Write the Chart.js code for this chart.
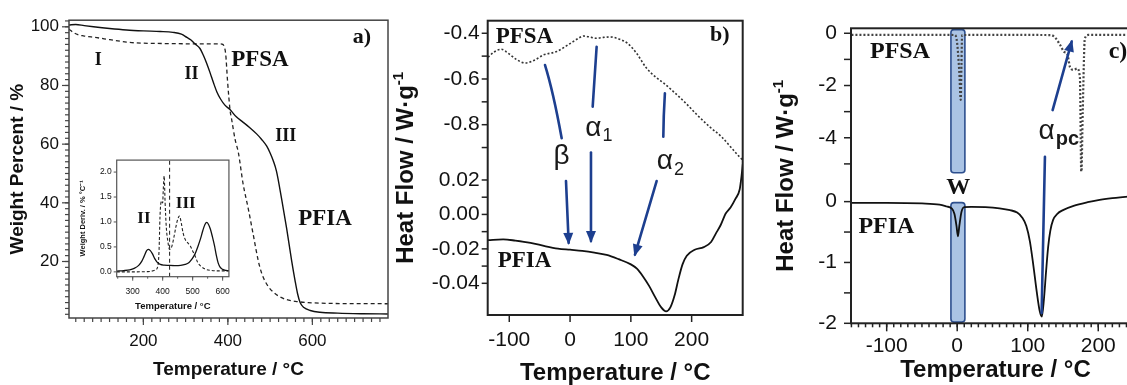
<!DOCTYPE html>
<html lang="en">
<head>
<meta charset="UTF-8">
<title>TGA and DSC of PFSA / PFIA</title>
<script src="https://cdn.jsdelivr.net/npm/chart.js@4"></script>
<style>
  html, body { margin: 0; padding: 0; background: #fff; overflow: hidden; width: 1127px; height: 385px; }
  .panel { position: absolute; top: 0; }
</style>
</head>
<body>
<div class="panel" style="left:0"><canvas id="chartA" width="392" height="385"></canvas></div>
<div class="panel" style="left:70px;top:150px"><canvas id="chartInset" width="170" height="170"></canvas></div>
<div class="panel" style="left:380px"><canvas id="chartB" width="380" height="385"></canvas></div>
<div class="panel" style="left:760px"><canvas id="chartC" width="390" height="385"></canvas></div>

<script>
// ---- panel a) TGA ----
const aTempPFIA = [24, 40, 60, 82, 120, 160, 200, 240, 270, 290, 303, 312, 322, 334, 342, 350, 358, 366, 374, 383, 393, 405, 420, 435, 452, 468, 480, 492, 500, 507, 515, 527, 539, 551, 559, 565, 571, 580, 595, 618, 660, 720, 779];
const aWeightPFIA = [100.6, 100.8, 100.4, 100.0, 99.4, 98.9, 98.6, 98.4, 98.1, 97.5, 96.4, 95.6, 94.2, 92.6, 90.3, 87.5, 84.3, 80.9, 77.8, 75.3, 73.3, 71.8, 69.3, 67.6, 65.6, 63.5, 61.6, 59.3, 57.0, 54.5, 50.8, 41.5, 31.4, 20.2, 13.5, 9.0, 6.0, 4.3, 3.3, 2.7, 2.4, 2.2, 2.1];
const aTempPFSA = [24, 34, 45, 58, 90, 121, 160, 184, 250, 318, 381, 388, 392, 395, 399, 402, 405, 409, 417, 425, 436, 448, 460, 472, 480, 488, 498, 508, 520, 539, 560, 590, 650, 779];
const aWeightPFSA = [99.2, 98.1, 97.3, 96.9, 96.3, 95.6, 94.8, 94.5, 94.3, 94.2, 94.2, 94.0, 93.0, 90.5, 82.0, 76.5, 71.8, 68.4, 61.7, 57.0, 46.5, 38.2, 29.2, 20.2, 16.0, 13.3, 11.0, 9.5, 8.2, 7.0, 6.4, 6.0, 5.7, 5.6];
const aXTicks = [200, 400, 600];
const aYTicks = [20, 40, 60, 80, 100];

// inset: derivative weight
const insTempPFIA = [247, 270, 290, 305, 320, 330, 338, 346, 352, 358, 366, 374, 382, 392, 405, 420, 440, 460, 475, 488, 498, 508, 517, 526, 534, 541, 547, 552, 559, 566, 573, 579, 585, 592, 600, 610, 621];
const insDerivPFIA = [0.016, 0.025, 0.04, 0.07, 0.13, 0.21, 0.31, 0.42, 0.45, 0.43, 0.36, 0.26, 0.19, 0.15, 0.135, 0.13, 0.125, 0.13, 0.15, 0.19, 0.26, 0.36, 0.5, 0.66, 0.83, 0.95, 0.99, 0.96, 0.86, 0.7, 0.52, 0.33, 0.18, 0.09, 0.05, 0.03, 0.025];
const insTempPFSA = [247, 300, 350, 375, 384, 388, 391, 394, 397, 400, 402, 405, 408, 412, 417, 423, 430, 437, 444, 450, 456, 462, 468, 476, 484, 492, 500, 508, 516, 526, 540, 560, 590, 621];
const insDerivPFSA = [0.0, 0.0, 0.005, 0.035, 0.12, 0.45, 1.1, 1.38, 1.42, 1.38, 1.65, 1.92, 1.4, 0.9, 0.62, 0.45, 0.5, 0.68, 0.9, 1.05, 1.12, 0.98, 0.78, 0.64, 0.58, 0.52, 0.42, 0.32, 0.2, 0.12, 0.06, 0.03, 0.02, 0.02];
const insMarkerTemp = 423;
const insXTicks = [300, 400, 500, 600];
const insYTicks = [0, 0.5, 1, 1.5, 2];

// ---- panel b) DSC heat flow ----
const bTempPFSA = [-135, -125, -113, -102, -88, -74, -58, -44, -22, 0, 15, 22, 35, 44, 55, 66, 80, 95, 110, 125, 140, 155, 170, 190, 210, 230, 250, 265, 275, 284];
const bFlowPFSA = [-0.505, -0.482, -0.47, -0.487, -0.515, -0.53, -0.517, -0.495, -0.48, -0.445, -0.42, -0.412, -0.418, -0.422, -0.418, -0.416, -0.425, -0.445, -0.49, -0.55, -0.59, -0.62, -0.655, -0.705, -0.76, -0.81, -0.855, -0.9, -0.93, -0.955];
const bTempPFIA = [-135, -110, -90, -65, -40, -20, 0, 20, 40, 60, 80, 100, 110, 120, 130, 140, 150, 158, 165, 172, 178, 185, 192, 205, 220, 232, 240, 248, 256, 264, 272, 279, 282, 285];
const bFlowPFIA = [-0.0149, -0.0145, -0.0152, -0.0165, -0.0185, -0.0198, -0.0205, -0.0212, -0.0222, -0.0235, -0.026, -0.029, -0.0315, -0.036, -0.0415, -0.048, -0.054, -0.0563, -0.054, -0.047, -0.038, -0.029, -0.024, -0.0205, -0.019, -0.016, -0.011, -0.006, 0.0005, 0.004, 0.009, 0.0145, 0.022, 0.032];
const bXTicks = [-100, 0, 100, 200];
const bTopTicks = [-0.4, -0.6, -0.8];
const bTopMinor = [-0.5, -0.7, -0.9];
const bBotTicks = [0.02, 0, -0.02, -0.04];
const bBotMinor = [0.01, -0.01, -0.03];

// ---- panel c) DSC heat flow ----
const cTempPFSA = [-150, -10, -3, 0, 3, 5, 6, 7, 20, 100, 133, 140, 146, 152, 156, 160, 165, 170, 174, 176, 178, 181, 186, 260];
const cFlowPFSA = [-0.065, -0.065, -0.07, -0.4, -1.5, -2.55, -1.2, -0.07, -0.065, -0.065, -0.07, -0.2, -0.45, -0.72, -0.78, -1.3, -1.4, -1.35, -1.7, -5.45, -3.0, -0.2, -0.065, -0.065];
const cTempPFIA = [-150, -100, -50, -25, -15, -8, -4, -1, 1, 3, 6, 10, 20, 40, 60, 75, 85, 92, 98, 103, 108, 113, 117, 120, 123, 126, 129, 132, 136, 142, 150, 165, 185, 200, 220, 260];
const cFlowPFIA = [-0.02, -0.02, -0.03, -0.05, -0.08, -0.11, -0.2, -0.4, -0.57, -0.4, -0.17, -0.09, -0.085, -0.09, -0.11, -0.14, -0.18, -0.26, -0.4, -0.65, -1.05, -1.5, -1.8, -1.89, -1.6, -1.15, -0.74, -0.48, -0.3, -0.2, -0.14, -0.07, -0.01, 0.025, 0.056, 0.1];
const cXTicks = [-100, 0, 100, 200];
const cTopTicks = [0, -2, -4];
const cTopMinor = [-1, -3, -5];
const cBotTicks = [0, -1, -2];
const cBotMinor = [-0.5, -1.5];

const SANS = '"Liberation Sans", Arial, sans-serif';
const SERIF = '"Liberation Serif", "Times New Roman", serif';
const BLUE = '#1d3f8f';
Chart.defaults.font.family = SANS;
Chart.defaults.color = '#111';

const pts = (xs, ys) => xs.map((x, i) => ({x: x, y: ys[i]}));
function steps(from, to, step) {
    const out = [];
    for (let v = from; v <= to + 1e-9; v += step) out.push(+v.toFixed(6));
    return out;
}

function line(data, yAxisID, extra) {
    return Object.assign({
        data: data, yAxisID: yAxisID, borderColor: '#111', borderWidth: 1.5,
        pointRadius: 0, fill: false, cubicInterpolationMode: 'monotone'
    }, extra);
}

function axis(min, max, majors, o) {
    return {
        type: 'linear', min: min, max: max,
        position: o.position, stack: o.stack, stackWeight: o.weight,
        grid: { display: false, drawTicks: false },
        border: { display: false },
        afterBuildTicks: s => { s.ticks = majors.map(v => ({value: v})); },
        afterFit: s => {
            if (o.h !== undefined) s.height = o.h;
            if (o.w !== undefined) s.width = o.w;
        },
        ticks: {
            autoSkip: false, maxRotation: 0, minRotation: 0, color: '#111',
            padding: o.pad, font: { size: o.size },
            callback: v => o.fmt ? o.fmt(v) : String(v)
        },
        title: o.title || { display: false }
    };
}

// frame, tick marks, annotations drawn through the chart's scales
function deco(cfg) {
    return {
        id: 'deco',
        beforeDatasetsDraw(chart) {
            const ctx = chart.ctx;
            (cfg.rects || []).forEach(r => {
                const xs = chart.scales.x, ys = chart.scales[r.axis];
                const x0 = xs.getPixelForValue(r.x0), x1 = xs.getPixelForValue(r.x1);
                const y0 = ys.getPixelForValue(r.y0), y1 = ys.getPixelForValue(r.y1);
                ctx.save();
                ctx.beginPath();
                ctx.roundRect(x0, y0, x1 - x0, y1 - y0, 3);
                ctx.fillStyle = 'rgba(125,163,214,0.65)';
                ctx.fill();
                ctx.lineWidth = 1.6;
                ctx.strokeStyle = '#2d4f8e';
                ctx.stroke();
                ctx.restore();
            });
        },
        afterDraw(chart) {
            const ctx = chart.ctx, ca = chart.chartArea;
            ctx.save();
            ctx.strokeStyle = cfg.frameColor || '#333';
            ctx.lineWidth = cfg.frameWidth || 1.5;
            ctx.strokeRect(ca.left, ca.top, ca.right - ca.left, ca.bottom - ca.top);

            (cfg.ticks || []).forEach(t => {
                const s = chart.scales[t.axis];
                ctx.lineWidth = t.width || 1.2;
                t.values.forEach(v => {
                    const p = s.getPixelForValue(v);
                    ctx.beginPath();
                    if (s.isHorizontal()) {
                        ctx.moveTo(p, ca.bottom); ctx.lineTo(p, ca.bottom + t.len);
                    } else {
                        ctx.moveTo(ca.left, p); ctx.lineTo(ca.left - t.len, p);
                    }
                    ctx.stroke();
                });
            });

            (cfg.arrows || []).forEach(a => {
                const xs = chart.scales.x, ys = chart.scales[a.axis];
                const p = a.pts.map(q => [xs.getPixelForValue(q[0]), ys.getPixelForValue(q[1])]);
                ctx.strokeStyle = BLUE;
                ctx.fillStyle = BLUE;
                ctx.lineWidth = 2.6;
                ctx.lineCap = 'round';
                ctx.beginPath();
                ctx.moveTo(p[0][0], p[0][1]);
                let from = p[0];
                const end = p[p.length - 1];
                if (p.length === 3) {
                    const cx = 2 * p[1][0] - (p[0][0] + p[2][0]) / 2;
                    const cy = 2 * p[1][1] - (p[0][1] + p[2][1]) / 2;
                    ctx.quadraticCurveTo(cx, cy, end[0], end[1]);
                    from = [cx, cy];
                } else {
                    ctx.lineTo(end[0], end[1]);
                }
                ctx.stroke();
                if (a.head) {
                    const ang = Math.atan2(end[1] - from[1], end[0] - from[0]);
                    const L = 10, W = 5;
                    ctx.beginPath();
                    ctx.moveTo(end[0] + Math.cos(ang) * 2, end[1] + Math.sin(ang) * 2);
                    ctx.lineTo(end[0] - Math.cos(ang) * L + Math.sin(ang) * W, end[1] - Math.sin(ang) * L - Math.cos(ang) * W);
                    ctx.lineTo(end[0] - Math.cos(ang) * L - Math.sin(ang) * W, end[1] - Math.sin(ang) * L + Math.cos(ang) * W);
                    ctx.closePath();
                    ctx.fill();
                }
            });

            (cfg.labels || []).forEach(l => {
                const xs = chart.scales.x, ys = chart.scales[l.axis || 'y'];
                const x = xs.getPixelForValue(l.x), y = ys.getPixelForValue(l.y);
                ctx.fillStyle = l.color || '#111';
                ctx.font = l.font;
                ctx.textBaseline = 'middle';
                ctx.textAlign = 'center';
                ctx.fillText(l.text, x, y);
                if (l.sub) {
                    const w = ctx.measureText(l.text).width;
                    ctx.font = l.subFont;
                    ctx.textAlign = 'left';
                    ctx.fillText(l.sub, x + w / 2 + 1, y + (l.subDy || 8));
                }
            });

            (cfg.vTitles || []).forEach(t => {
                const cy = (ca.top + ca.bottom) / 2;
                ctx.translate(t.cx, cy);
                ctx.rotate(-Math.PI / 2);
                ctx.textAlign = 'left';
                ctx.textBaseline = 'alphabetic';
                let total = 0;
                t.parts.forEach(pt => { ctx.font = pt.font; total += ctx.measureText(pt.text).width; });
                let x = -total / 2;
                t.parts.forEach(pt => {
                    ctx.font = pt.font;
                    ctx.fillStyle = '#111';
                    ctx.fillText(pt.text, x, t.base + (pt.dy || 0));
                    x += ctx.measureText(pt.text).width;
                });
                ctx.setTransform(1, 0, 0, 1, 0, 0);
            });
            ctx.restore();
        }
    };
}

const quiet = { legend: { display: false }, tooltip: { enabled: false } };

// ---------- panel a ----------
new Chart(document.getElementById('chartA'), {
    type: 'line',
    data: { datasets: [
        line(pts(aTempPFIA, aWeightPFIA), 'y', { borderWidth: 1.4 }),
        line(pts(aTempPFSA, aWeightPFSA), 'y', { borderWidth: 1.3, borderDash: [4, 3], borderColor: '#222' })
    ]},
    options: {
        responsive: false, animation: false, events: [],
        layout: { padding: { top: 16, right: 4, left: 0, bottom: 0 } },
        plugins: quiet,
        scales: {
            x: axis(24, 779, aXTicks, { h: 67, pad: 13.5, size: 17,
                title: { display: true, text: 'Temperature / °C', font: { size: 19, weight: 'bold', lineHeight: 1 }, padding: { top: 0, bottom: 5.5 } } }),
            y: axis(0.74, 102.25, aYTicks, { w: 69, pad: 10, size: 17,
                title: { display: true, text: 'Weight Percent / %', font: { size: 19, weight: 'bold', lineHeight: 1 }, padding: { top: 8.5, bottom: 0 } } })
        }
    },
    plugins: [deco({
        frameColor: '#444', frameWidth: 1.5,
        ticks: [
            { axis: 'x', values: steps(40, 760, 20), len: 4 },
            { axis: 'x', values: aXTicks, len: 7 },
            { axis: 'y', values: steps(2, 102, 2), len: 4 },
            { axis: 'y', values: aYTicks, len: 7 }
        ],
        labels: [
            { text: 'I', x: 93, y: 88.4, font: `bold 18px ${SERIF}` },
            { text: 'II', x: 314, y: 83.9, font: `bold 18px ${SERIF}` },
            { text: 'PFSA', x: 476, y: 88.6, font: `bold 23px ${SERIF}` },
            { text: 'a)', x: 717, y: 96.4, font: `bold 22px ${SERIF}` },
            { text: 'III', x: 537, y: 62.6, font: `bold 18px ${SERIF}` },
            { text: 'PFIA', x: 630, y: 34.3, font: `bold 23px ${SERIF}` }
        ]
    })]
});

// ---------- inset ----------
new Chart(document.getElementById('chartInset'), {
    type: 'line',
    data: { datasets: [
        line(pts(insTempPFIA, insDerivPFIA), 'y', { borderWidth: 1.3 }),
        line(pts(insTempPFSA, insDerivPFSA), 'y', { borderWidth: 1.1, borderDash: [3, 2], borderColor: '#222' }),
        line([{x: insMarkerTemp, y: -0.1}, {x: insMarkerTemp, y: 2.3}], 'y', { borderWidth: 1.1, borderDash: [4, 3], borderColor: '#333', tension: 0, cubicInterpolationMode: 'default' })
    ]},
    options: {
        responsive: false, animation: false, events: [],
        layout: { padding: { top: 6.7, right: 6.7, left: 0, bottom: 0 } },
        plugins: quiet,
        scales: {
            x: axis(246.6, 621, insXTicks, { h: 43.3, pad: 9.9, size: 8.5,
                title: { display: true, text: 'Temperature / °C', font: { size: 9.5, weight: 'bold', lineHeight: 1 }, padding: { top: 0, bottom: 8.5 } } }),
            y: axis(-0.097, 2.24, insYTicks, { w: 46.7, pad: 5, size: 8.5, fmt: v => v.toFixed(1),
                title: { display: true, text: 'Weight Deriv. / % °C⁻¹', font: { size: 7.5, weight: 'bold', lineHeight: 1 }, padding: { top: 9, bottom: 0 } } })
        }
    },
    plugins: [deco({
        frameColor: '#555', frameWidth: 1.2,
        ticks: [
            { axis: 'x', values: steps(250, 600, 50), len: 2, width: 1 },
            { axis: 'x', values: insXTicks, len: 4, width: 1 },
            { axis: 'y', values: insYTicks, len: 3, width: 1 }
        ],
        labels: [
            { text: 'II', x: 337.6, y: 1.07, font: `bold 17px ${SERIF}` },
            { text: 'III', x: 476.8, y: 1.36, font: `bold 17px ${SERIF}` }
        ]
    })]
});

// ---------- panel b ----------
new Chart(document.getElementById('chartB'), {
    type: 'line',
    data: { datasets: [
        line(pts(bTempPFSA, bFlowPFSA), 'yTop', { borderWidth: 1.6, borderDash: [2, 2], borderColor: '#333' }),
        line(pts(bTempPFIA, bFlowPFIA), 'yBot', { borderWidth: 1.8 })
    ]},
    options: {
        responsive: false, animation: false, events: [],
        layout: { padding: { top: 20.7, right: 17.3, left: 0, bottom: 0 } },
        plugins: quiet,
        scales: {
            x: axis(-135.5, 284, bXTicks, { h: 70, pad: 12.4, size: 21,
                title: { display: true, text: 'Temperature / °C', font: { size: 24, weight: 'bold', lineHeight: 1 }, padding: { top: 0, bottom: 0 } } }),
            yBot: axis(-0.0584, 0.0316, bBotTicks, { position: 'left', stack: 'b', weight: 155, w: 107.7, pad: 8, size: 21, fmt: v => v.toFixed(2) }),
            yTop: axis(-0.9545, -0.345, bTopTicks, { position: 'left', stack: 'b', weight: 139.3, w: 107.7, pad: 8, size: 21, fmt: v => v.toFixed(1) })
        }
    },
    plugins: [deco({
        frameColor: '#222', frameWidth: 2,
        ticks: [
            { axis: 'x', values: bXTicks, len: 7, width: 1.5 },
            { axis: 'yTop', values: bTopTicks.concat(bTopMinor), len: 6, width: 1.5 },
            { axis: 'yBot', values: bBotTicks.concat(bBotMinor), len: 6, width: 1.5 }
        ],
        arrows: [
            { axis: 'yTop', pts: [[-41.2, -0.539], [-27.6, -0.677], [-13.8, -0.859]] },
            { axis: 'yBot', pts: [[-6.7, 0.0194], [-2.3, -0.0165]], head: true },
            { axis: 'yTop', pts: [[43.7, -0.459], [37.2, -0.721]] },
            { axis: 'yBot', pts: [[34.4, 0.0359], [34.4, -0.0155]], head: true },
            { axis: 'yTop', pts: [[156, -0.6626], [154.2, -0.76], [153.4, -0.8525]] },
            { axis: 'yBot', pts: [[142.4, 0.0194], [106.7, -0.0233]], head: true }
        ],
        labels: [
            { text: 'PFSA', x: -75, y: -0.415, axis: 'yTop', font: `bold 23px ${SERIF}` },
            { text: 'b)', x: 246.5, y: -0.407, axis: 'yTop', font: `bold 22px ${SERIF}` },
            { text: 'PFIA', x: -75, y: -0.0272, axis: 'yBot', font: `bold 23px ${SERIF}` },
            { text: 'β', x: -13.8, y: -0.94, axis: 'yTop', font: `28px ${SANS}`, color: '#1a1a1a' },
            { text: 'α', x: 38.2, y: -0.816, axis: 'yTop', font: `28px ${SANS}`, color: '#1a1a1a', sub: '1', subFont: `18px ${SANS}`, subDy: 8 },
            { text: 'α', x: 156, y: -0.962, axis: 'yTop', font: `28px ${SANS}`, color: '#1a1a1a', sub: '2', subFont: `18px ${SANS}`, subDy: 8 }
        ],
        vTitles: [
            { cx: 25, base: 8, parts: [
                { text: 'Heat Flow / W·g', font: `bold 24px ${SANS}` },
                { text: '-1', font: `bold 15px ${SANS}`, dy: -10 }
            ] }
        ]
    })]
});

// ---------- panel c ----------
new Chart(document.getElementById('chartC'), {
    type: 'line',
    data: { datasets: [
        line(pts(cTempPFSA, cFlowPFSA), 'yTop', { borderWidth: 2.2, borderDash: [2, 2], borderColor: '#444' }),
        line(pts(cTempPFIA, cFlowPFIA), 'yBot', { borderWidth: 1.8 })
    ]},
    options: {
        responsive: false, animation: false, events: [],
        layout: { padding: { top: 28.3, right: 10, left: 0, bottom: 0 } },
        plugins: quiet,
        scales: {
            x: axis(-150.6, 259.2, cXTicks, { h: 61.7, pad: 10.8, size: 21,
                title: { display: true, text: 'Temperature / °C', font: { size: 24, weight: 'bold', lineHeight: 1 }, padding: { top: 0, bottom: 3 } } }),
            yBot: axis(-2, 0.487, cBotTicks, { position: 'left', stack: 'c', weight: 151.3, w: 91, pad: 14, size: 21 }),
            yTop: axis(-5.31, 0.19, cTopTicks, { position: 'left', stack: 'c', weight: 143.7, w: 91, pad: 14, size: 21 })
        }
    },
    plugins: [deco({
        frameColor: '#222', frameWidth: 2,
        ticks: [
            { axis: 'x', values: steps(-150, 250, 10), len: 4, width: 1.5 },
            { axis: 'x', values: cXTicks, len: 8, width: 1.5 },
            { axis: 'yTop', values: cTopTicks.concat(cTopMinor), len: 7, width: 1.5 },
            { axis: 'yBot', values: cBotTicks.concat(cBotMinor), len: 7, width: 1.5 }
        ],
        rects: [
            { axis: 'yTop', x0: -8.9, x1: 10.9, y0: 0.14, y1: -5.34 },
            { axis: 'yBot', x0: -8.9, x1: 10.9, y0: -0.016, y1: -1.98 }
        ],
        arrows: [
            { axis: 'yTop', pts: [[135.3, -2.94], [162.3, -0.32]], head: true },
            { axis: 'yBot', pts: [[124.4, 0.738], [119.7, -1.83]] }
        ],
        labels: [
            { text: 'PFSA', x: -81.1, y: -0.704, axis: 'yTop', font: `bold 24px ${SERIF}` },
            { text: 'c)', x: 228, y: -0.704, axis: 'yTop', font: `bold 24px ${SERIF}` },
            { text: 'W', x: 1.4, y: 0.22, axis: 'yBot', font: `bold 24px ${SERIF}` },
            { text: 'PFIA', x: -100.4, y: -0.41, axis: 'yBot', font: `bold 24px ${SERIF}` },
            { text: 'α', x: 126.8, y: -3.77, axis: 'yTop', font: `28px ${SANS}`, color: '#1a1a1a', sub: 'pc', subFont: `bold 20px ${SANS}`, subDy: 8 }
        ],
        vTitles: [
            { cx: 25, base: 8, parts: [
                { text: 'Heat Flow / W·g', font: `bold 24px ${SANS}` },
                { text: '-1', font: `bold 15px ${SANS}`, dy: -10 }
            ] }
        ]
    })]
});
</script>
</body>
</html>
